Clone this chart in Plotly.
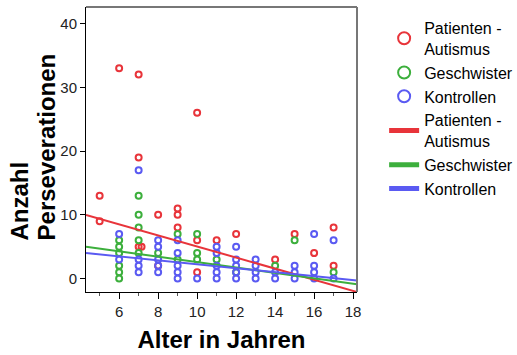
import numpy as np
import plotly.graph_objects as go

# ---- data ----
groups = ["Patienten -<br>Autismus", "Geschwister", "Kontrollen"]
colors = ["#E8343A", "#3CAF3C", "#5A5AF2"]

pat_x = [5, 5, 6, 7, 7, 7, 7.15, 8, 8, 9, 9, 9, 10, 10, 10, 11, 12, 14, 15, 16, 17, 17]
pat_y = [13, 9, 33, 32, 19, 5, 5, 10, 2, 11, 10, 8, 26, 6, 1, 6, 7, 3, 7, 4, 8, 2]

ges_x = [6, 6, 6, 6, 6, 6, 7, 7, 7, 7, 7, 8, 9, 9, 10, 10, 10, 11, 12, 14, 15, 17]
ges_y = [6, 5, 4, 2, 1, 0, 13, 10, 8, 6, 4, 4, 7, 3, 7, 4, 3, 3, 1, 2, 6, 1]

kon_x = [6, 6, 7, 7, 7, 7, 8, 8, 8, 8, 8, 9, 9, 9, 9, 9, 10,
         11, 11, 11, 11, 11, 12, 12, 12, 12, 12, 13, 13, 13, 13,
         14, 14, 15, 15, 15, 16, 16, 16, 16, 17, 17]
kon_y = [7, 3, 17, 3, 2, 1, 6, 5, 3, 2, 1, 6, 4, 2, 1, 0, 0,
         5, 4, 2, 1, 0, 5, 3, 2, 1, 0, 3, 2, 1, 0,
         1, 0, 2, 1, 0, 7, 2, 1, 0, 6, 0]

# linear fit lines (intercept, slope)
fit_intercept = [13.74, 6.83, 5.33]
fit_slope = [-0.87, -0.424, -0.309]

x_range = [4.3, 18.2]
y_range = [-2.1, 42.6]
x_tick_labels = [6, 8, 10, 12, 14, 16, 18]
y_tick_labels = [0, 10, 20, 30, 40]
y_title_lines = ["Anzahl", "Perseverationen"]

xs = [pat_x, ges_x, kon_x]
ys = [pat_y, ges_y, kon_y]

fig = go.Figure()
for name, col, x, y in zip(groups, colors, xs, ys):
    fig.add_trace(go.Scatter(
        x=x, y=y, mode="markers", name=name,
        marker=dict(symbol="circle-open", size=6, color=col, line=dict(width=2, color=col)),
    ))

xl = np.array(x_range)
for name, col, b0, b1 in zip(groups, colors, fit_intercept, fit_slope):
    fig.add_trace(go.Scatter(
        x=xl, y=b0 + b1 * xl, mode="lines", name=name,
        line=dict(color=col, width=2),
    ))

font = "Arial, Liberation Sans, sans-serif"
fig.update_layout(
    width=517, height=355,
    margin=dict(l=86, r=160, t=7, b=63),
    paper_bgcolor="white", plot_bgcolor="white",
    font=dict(family=font, size=15, color="#222"),
    showlegend=True,
    legend=dict(
        xref="container", yref="container",
        x=0.743, y=0.969, xanchor="left", yanchor="top",
        font=dict(family=font, size=16, color="black"),
        itemsizing="constant", tracegroupgap=0,
        bgcolor="rgba(0,0,0,0)", maxheight=340,
    ),
    xaxis=dict(
        range=x_range, tickvals=x_tick_labels,
        ticks="outside", ticklen=6, tickcolor="black",
        minor=dict(dtick=1, tick0=5, ticks="outside", ticklen=3, tickcolor="#555"),
        showline=True, linecolor="black", linewidth=1,
        showgrid=False, zeroline=False,
        tickfont=dict(size=15, color="#222"),
        title=dict(text="<b>Alter in Jahren</b>", font=dict(size=24, color="black"), standoff=12),
    ),
    yaxis=dict(
        range=y_range, tickvals=y_tick_labels,
        ticks="outside", ticklen=5, tickcolor="black",
        showline=True, linecolor="black", linewidth=1,
        showgrid=False, zeroline=False,
        tickfont=dict(size=15, color="#222"),
    ),
    shapes=[
        dict(type="line", xref="paper", yref="paper", x0=0, x1=1, y0=1, y1=1,
             line=dict(color="#777", width=2)),
        dict(type="line", xref="paper", yref="paper", x0=1, x1=1, y0=0, y1=1,
             line=dict(color="#777", width=2)),
    ],
)

for txt, shift in zip(y_title_lines, [-67, -40]):
    fig.add_annotation(
        text=f"<b>{txt}</b>", textangle=-90, showarrow=False,
        xref="paper", yref="paper", x=0, y=0.172,
        xanchor="center", yanchor="bottom", xshift=shift,
        font=dict(family=font, size=24, color="black"),
    )

fig.write_html("out.html")
